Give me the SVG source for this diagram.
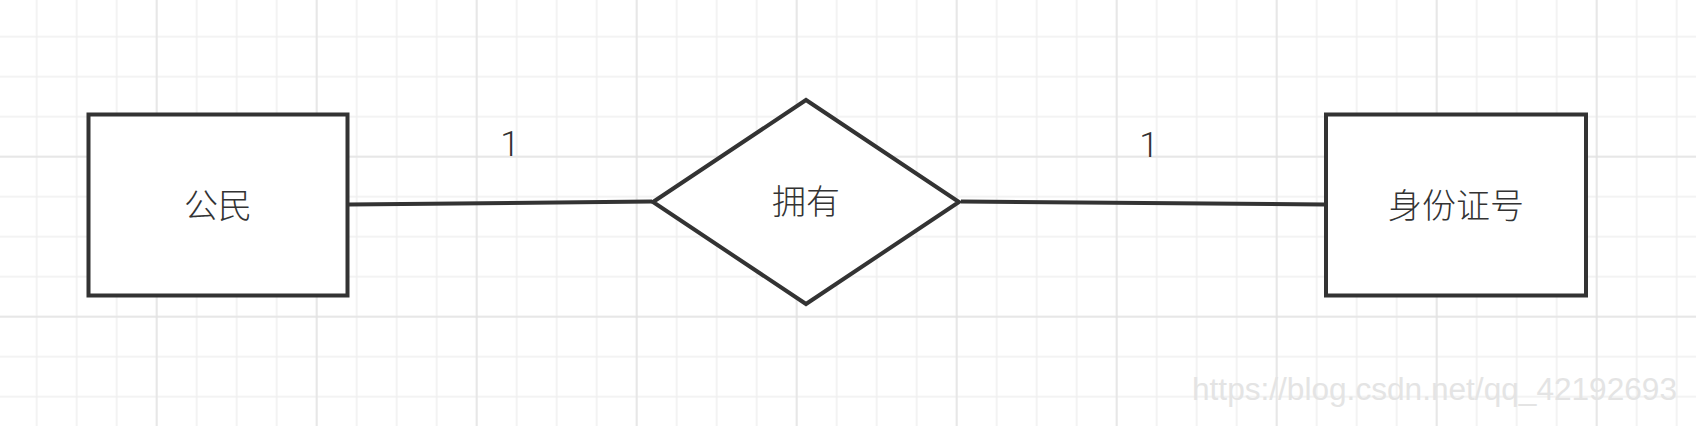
<svg xmlns="http://www.w3.org/2000/svg" width="1696" height="426" viewBox="0 0 1696 426">
  <style>
    .shape { fill: #ffffff; stroke: #333333; stroke-width: 4; stroke-linejoin: miter; }
    .edge { fill: none; stroke: #333333; stroke-width: 4; }
    .cjk { font-family: "Noto Sans CJK SC", "Noto Sans", sans-serif; font-size: 34px; font-weight: 300; fill: #333333; text-anchor: middle; }
    .card { font-family: Roboto, "Liberation Sans", Arial, sans-serif; font-size: 35px; font-weight: 300; fill: #333333; text-anchor: middle; }
    .wm { font-family: "Liberation Sans", Arial, sans-serif; font-size: 31px; fill: #e4e4e4; }
  </style>
  <defs>
    <pattern id="minor" patternUnits="userSpaceOnUse" x="16.7" y="16.7" width="40" height="40">
      <path d="M0 20 H40 M20 0 V40" stroke="#f0f0f0" stroke-width="1.5" fill="none"/>
    </pattern>
    <pattern id="major" patternUnits="userSpaceOnUse" x="76.7" y="76.7" width="160" height="160">
      <path d="M0 80 H160 M80 0 V160" stroke="#e3e3e3" stroke-width="1.5" fill="none"/>
    </pattern>
  </defs>
  <g id="background">
    <rect x="0" y="0" width="1696" height="426" fill="#ffffff"/>
    <rect x="0" y="0" width="1696" height="426" fill="url(#minor)"/>
    <rect x="0" y="0" width="1696" height="426" fill="url(#major)"/>
  </g>
  <g id="connectors">
    <line class="edge" x1="349" y1="204.5" x2="652" y2="201.5"/>
    <line class="edge" x1="961" y1="201.5" x2="1325" y2="204.5"/>
    <text class="card" x="510" y="156">1</text>
    <text class="card" x="1149" y="157">1</text>
  </g>
  <g id="node-citizen">
    <rect class="shape" x="88.5" y="114.5" width="259" height="181"/>
    <text class="cjk" x="218" y="218">公民</text>
  </g>
  <g id="node-own">
    <polygon class="shape" points="653,202 806,100 959,202 806,304"/>
    <text class="cjk" x="806" y="214">拥有</text>
  </g>
  <g id="node-idnumber">
    <rect class="shape" x="1326" y="114.5" width="260" height="181"/>
    <text class="cjk" x="1456" y="218">身份证号</text>
  </g>
  <g id="watermark">
    <text class="wm" x="1192" y="400" textLength="485" lengthAdjust="spacingAndGlyphs">https://blog.csdn.net/qq_42192693</text>
  </g>
</svg>
